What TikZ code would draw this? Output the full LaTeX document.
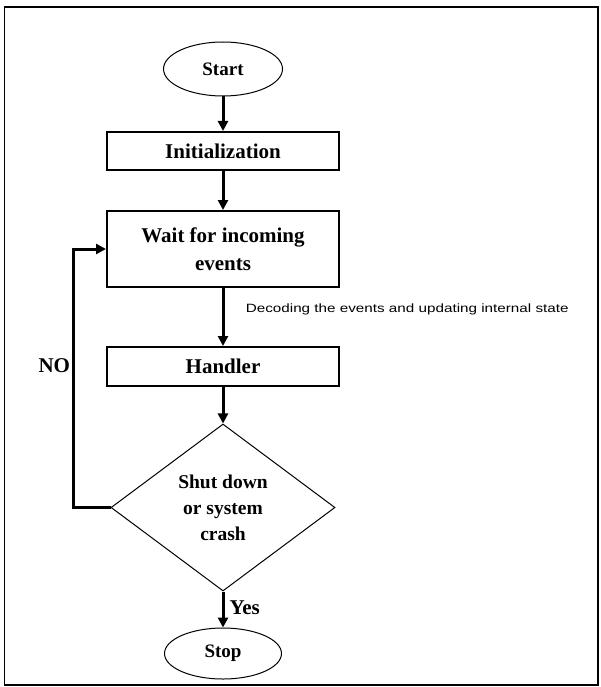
\documentclass[tikz,border=0pt]{standalone}
\usepackage{fontspec}
\setmainfont{Liberation Serif}
\newfontfamily\notefont[FakeStretch=1.27]{Liberation Sans}
\usetikzlibrary{shapes.geometric,arrows.meta}

\begin{document}
\begin{tikzpicture}[x=1pt, y=-1pt,
  boxfont/.style={font=\fontsize{21}{28}\selectfont\bfseries},
  lblfont/.style={font=\fontsize{21}{25}\selectfont\bfseries},
  stepbox/.style={draw, rectangle, line width=2pt, minimum width=232pt, inner sep=0pt, boxfont, align=center},
  term/.style={draw, ellipse, line width=1pt, inner sep=0pt, font=\fontsize{19}{23}\selectfont\bfseries},
  flow/.style={draw, line width=3pt, -{Triangle[length=10pt,width=10pt]}}]

% Moldura
\useasboundingbox (0,0) rectangle (600,687);
\draw[line width=1.5pt] (4.5,7) rectangle (598,685);

% Start
\node (start) [term, minimum width=119pt, minimum height=54pt] at (223,69) {Start};

% Initialization
\node (init) [stepbox, minimum height=38pt] at (223,151) {Initialization};

% Seta
\path[flow] (start) -- (init);

% Wait for incoming events
\node (wait) [stepbox, minimum height=76pt] at (223,249) {Wait for incoming\\events};

% Seta
\path[flow] (init) -- (wait);

% Handler
\node (handler) [stepbox, minimum height=39pt] at (223,366.5) {Handler};

% Seta com rótulo
\path[flow] (wait) -- node[pos=0.37, right=18pt, font={\notefont\fontsize{12}{14}\selectfont}] {Decoding the events and updating internal state} (handler);

% Losango
\node (cond) [draw, diamond, aspect=1.34, line width=1pt, minimum width=224pt, minimum height=167pt, inner sep=0pt, font=\fontsize{19.5}{26}\selectfont\bfseries, align=center] at (223,507.5) {Shut down\\or system\\crash};

% Seta
\path[flow] (handler) -- (cond);

% Volta (NO)
\coordinate (loop) at (73.5,507.5);
\path[flow] (cond.west) -- (loop) -- node[pos=0.55, left, inner sep=2pt, lblfont] {NO} (loop |- wait.west) -- (wait.west);

% Stop
\node (stop) [term, minimum width=117pt, minimum height=51pt] at (223,653.5) {Stop};

% Seta com rótulo (Yes)
\path[flow] (cond.south) -- node[pos=0.45, right, inner sep=5pt, lblfont] {Yes} (stop);

\end{tikzpicture}
\end{document}
